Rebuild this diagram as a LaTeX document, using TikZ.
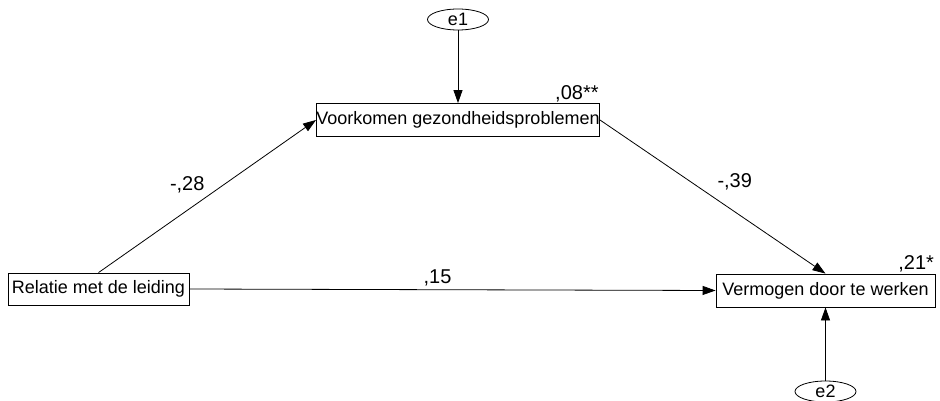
\documentclass[tikz,border=0pt]{standalone}
\usepackage{fontspec}
\setmainfont{Liberation Sans}
\usepackage{tikz}
\usetikzlibrary{shapes.geometric,arrows.meta,positioning,calc}

\begin{document}
\begin{tikzpicture}[
    x=1pt, y=-1pt,
    font=\fontsize{18}{21}\selectfont,
    var/.style={draw, line width=0.8pt, inner sep=0pt, minimum height=33pt, align=center},
    err/.style={draw, ellipse, line width=0.8pt, inner sep=0pt, minimum width=61pt, minimum height=21pt},
    coef/.style={inner sep=1pt, font=\fontsize{20}{22}\selectfont},
    ->, >={Triangle[length=13pt,width=9pt]}, line width=0.8pt
]
    \useasboundingbox (0,0) rectangle (940,401);

    % Observed variables
    \node[var, minimum width=282pt] (VG) at (458,120) {Voorkomen gezondheidsproblemen};
    \node[var, minimum width=181pt, minimum height=32pt] (RL) at (98.5,289) {Relatie met de leiding};
    \node[var, minimum width=219pt] (VW) at (825.5,290.5) {Vermogen door te werken};

    % Error terms
    \node[err] (e1) at (458,19.5) {e1};
    \node[err] (e2) at (825.5,391.5) {e2};

    % Explained variance
    \node[coef, anchor=south east] at (VG.north east) {,08**};
    \node[coef, anchor=south east] at (VW.north east) {,21*};

    % Paths
    \draw (RL.north) -- node[coef, pos=0.5, xshift=-20pt, yshift=12pt] {-,28} (VG.west);
    \draw (VG.east) -- node[coef, pos=0.5, xshift=22pt, yshift=15pt] {-,39} (VW.north);
    \draw (RL.east) -- node[coef, pos=0.5, xshift=-15pt, yshift=12pt] {,15} (VW.west);
    \draw (e1.south) -- (VG.north);
    \draw (e2.north) -- (VW.south);
\end{tikzpicture}
\end{document}
